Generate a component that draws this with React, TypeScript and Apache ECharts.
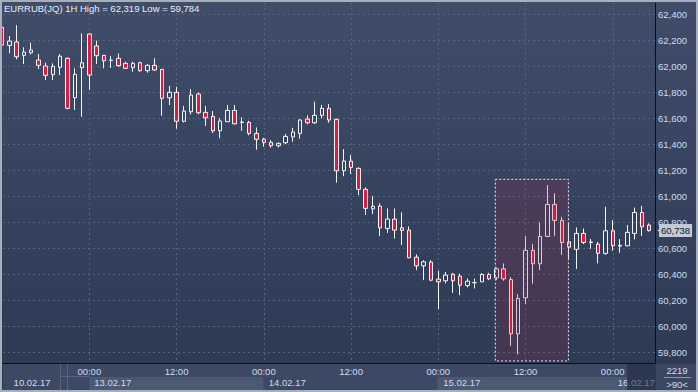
import React, { useEffect, useRef } from "react";
import * as echarts from "echarts";

// ---- data (hourly candles, index 0 = 10.02.17 12:00) ----
const opens = [
  62303, 62164, 62190, 62087, 62107, 62051, 62005, 61938, 61995, 62064,
  61760, 61992, 62251, 62159, 62087, 62051, 62064, 62025, 61992, 62030,
  61969, 62010, 61979, 61760, 61802, 61579, 61653, 61789, 61648, 61617,
  61506, 61576, 61663, 61573, 61571, 61486, 61442, 61417, 61391, 61414,
  61458, 61486, 61596, 61568, 61625, 61679, 61594, 61198, 61273, 61217,
  61055, 60905, 60926, 60754, 60826, 60759, 60741, 60533, 60466, 60495,
  60364, 60351, 60402, 60387, 60315, 60336, 60343, 60400, 60374, 60443,
  60361, 59942, 60220, 60585, 60482, 60692, 60939, 60816, 60651, 60593,
  60716, 60646, 60634, 60562, 60736, 60618, 60620, 60716, 60877, 60780,
];
const highs = [
  62310, 62236, 62319, 62149, 62184, 62097, 62030, 62025, 62097, 62070,
  61987, 62256, 62257, 62200, 62090, 62082, 62102, 62038, 62038, 62038,
  62018, 62064, 61980, 61851, 61845, 61697, 61827, 61802, 61697, 61658,
  61602, 61704, 61704, 61609, 61583, 61532, 61452, 61435, 61417, 61481,
  61529, 61596, 61625, 61730, 61704, 61712, 61600, 61365, 61319, 61224,
  61070, 61003, 60947, 60908, 60908, 60878, 60770, 60554, 60510, 60510,
  60428, 60420, 60412, 60408, 60369, 60369, 60410, 60412, 60454, 60485,
  60379, 60248, 60695, 60633, 60800, 61088, 61024, 60844, 60790, 60762,
  60754, 60672, 60651, 60921, 60818, 60672, 60780, 60915, 60928, 60793,
];
const lows = [
  62150, 62103, 62056, 62020, 62095, 61982, 61897, 61897, 61935, 61671,
  61666, 61614, 61820, 62020, 61987, 61990, 61999, 61982, 61961, 61961,
  61953, 61969, 61622, 61704, 61522, 61570, 61633, 61633, 61543, 61490,
  61448, 61576, 61555, 61506, 61471, 61360, 61383, 61375, 61378, 61404,
  61422, 61445, 61556, 61558, 61602, 61568, 61106, 61157, 61173, 61011,
  60857, 60864, 60695, 60720, 60677, 60626, 60525, 60433, 60356, 60348,
  60133, 60331, 60258, 60240, 60300, 60292, 60343, 60356, 60356, 60351,
  59850, 59784, 60171, 60328, 60433, 60692, 60697, 60551, 60520, 60441,
  60634, 60597, 60485, 60551, 60582, 60567, 60620, 60670, 60697, 60730,
];
const closes = [
  62166, 62197, 62076, 62112, 62128, 62010, 61933, 62002, 62080, 61679,
  61941, 62030, 61935, 62084, 62045, 62048, 62007, 61987, 62025, 61969,
  62010, 61974, 61756, 61802, 61579, 61658, 61781, 61645, 61606, 61506,
  61581, 61663, 61560, 61570, 61486, 61440, 61417, 61391, 61409, 61463,
  61496, 61589, 61568, 61625, 61679, 61589, 61198, 61273, 61224, 61055,
  60909, 60925, 60759, 60826, 60741, 60739, 60528, 60466, 60497, 60356,
  60343, 60395, 60351, 60317, 60348, 60338, 60400, 60366, 60443, 60366,
  59942, 60215, 60585, 60482, 60692, 60939, 60816, 60646, 60610, 60716,
  60646, 60650, 60562, 60736, 60620, 60624, 60724, 60877, 60767, 60738,
];

const priceTicks = [59800, 60000, 60200, 60400, 60600, 60800, 61000, 61200, 61400, 61600, 61800, 62000, 62200, 62400];
const timeTickIdx = [12, 24, 36, 48, 60, 72, 84];
const timeTickText = ["00:00", "12:00", "00:00", "12:00", "00:00", "12:00", "00:00"];
const dateTickIdx = [0.9, 12, 36, 60, 84];
const dateTickText = ["10.02.17", "13.02.17", "14.02.17", "15.02.17", "16.02.17"];
const titleText = "EURRUB(JQ) 1H High = 62,319 Low = 59,784";
const lastPrice = 60738;
const selection = { fromIdx: 67.85, toIdx: 77.9, low: 59734, high: 61132 };
const cornerTexts = ["2219", ">90<"];

const viewIdx = { min: 0.13, max: 89.81 };
const viewPrice = { min: 59718, max: 62490 };

const FONT = "'Liberation Sans', Arial, sans-serif";
const FS = 9.5;
const labelColor = "#cfdcee";
const gridColor = "#56647f";
const tagColor = "#c4cad3";

const fmt = (v: number) => v.toLocaleString("en-US");

export default function App() {
  const ref = useRef<HTMLDivElement>(null);
  useEffect(() => {
    if (!ref.current) return;
    const chart = echarts.init(ref.current, null, { renderer: "svg" });
    const candles = opens.map((o, i) => [i, o, closes[i], lows[i], highs[i]]);
    const option: any = {
      animation: false,
      backgroundColor: "transparent",
      textStyle: { fontFamily: FONT },
      title: {
        text: titleText,
        left: 4,
        top: 3,
        padding: 0,
        textStyle: { color: "#e9eef7", fontSize: FS, fontWeight: "normal", fontFamily: FONT },
      },
      grid: { left: 3, top: 3, right: 43, bottom: 29 },
      xAxis: [
        {
          type: "value",
          min: viewIdx.min,
          max: viewIdx.max,
          position: "bottom",
          axisLine: { show: true, onZero: false, lineStyle: { color: "#0b0e15", width: 1 } },
          axisTick: { show: false, customValues: timeTickIdx },
          axisLabel: {
            customValues: timeTickIdx,
            formatter: (v: number) => timeTickText[timeTickIdx.indexOf(v)] ?? "",
            color: labelColor,
            fontSize: FS,
            fontFamily: FONT,
            margin: 3,
          },
          splitLine: { show: true, lineStyle: { color: gridColor, type: [2, 3], width: 1 } },
        },
        {
          type: "value",
          min: viewIdx.min,
          max: viewIdx.max,
          position: "bottom",
          offset: 11,
          axisLine: { show: false },
          axisTick: { show: false, customValues: dateTickIdx },
          axisLabel: {
            customValues: dateTickIdx,
            formatter: (v: number) => dateTickText[dateTickIdx.indexOf(v)] ?? "",
            color: labelColor,
            fontSize: FS,
            fontFamily: FONT,
            align: "left",
            margin: 3,
            padding: [0, 0, 0, 5],
          },
          splitLine: { show: false },
        },
      ],
      yAxis: {
        type: "value",
        position: "right",
        min: viewPrice.min,
        max: viewPrice.max,
        scale: true,
        axisLine: { show: true, onZero: false, lineStyle: { color: "#0b0e15", width: 1 } },
        axisTick: { show: false, customValues: priceTicks },
        axisLabel: {
          customValues: priceTicks,
          formatter: (v: number) => fmt(v),
          color: labelColor,
          fontSize: FS,
          fontFamily: FONT,
          margin: 3,
        },
        splitLine: { show: true, lineStyle: { color: gridColor, type: [2, 3], width: 1 } },
      },
      series: [
        {
          type: "candlestick",
          xAxisIndex: 0,
          data: candles,
          barWidth: 4,
          itemStyle: {
            color: "rgba(0,0,0,0)",
            color0: "#e5173d",
            borderColor: "#f4f6fa",
            borderColor0: "#f4f6fa",
            borderWidth: 1,
          },
          markArea: {
            z: 10,
            silent: true,
            itemStyle: {
              color: "rgba(160,40,70,0.2)",
              borderColor: "#e6e6ee",
              borderWidth: 1,
              borderType: [2, 2],
            },
            data: [[
              { xAxis: selection.fromIdx, yAxis: selection.high },
              { xAxis: selection.toIdx, yAxis: selection.low },
            ]],
          },
          markLine: {
            z: 20,
            silent: true,
            symbol: "none",
            lineStyle: { color: "rgba(0,0,0,0)", width: 1 },
            label: {
              show: true,
              position: "end",
              distance: 4,
              formatter: fmt(lastPrice),
              backgroundColor: tagColor,
              color: "#10141c",
              fontSize: FS,
              fontFamily: FONT,
              padding: [2, 2, 1, 2],
            },
            data: [{ yAxis: lastPrice }],
          },
          markPoint: {
            z: 20,
            silent: true,
            symbol: "triangle",
            symbolSize: [10, 6],
            symbolRotate: 90,
            symbolOffset: [5.5, 0],
            itemStyle: { color: tagColor },
            label: { show: false },
            data: [{ coord: [viewIdx.max, lastPrice] }],
          },
        },
      ],
      graphic: [
        // bottom bar background
        { type: "rect", z: -10, shape: { x: 3, y: 364, width: 652, height: 26 }, style: { fill: "#3d4964" } },
        { type: "rect", z: -9, shape: { x: 89.3, y: 377, width: 174, height: 13 }, style: { fill: "#4c5973" } },
        { type: "rect", z: -9, shape: { x: 437.3, y: 377, width: 190, height: 13 }, style: { fill: "#4c5973" } },
        { type: "line", z: -8, shape: { x1: 60.5, y1: 364, x2: 60.5, y2: 390 }, style: { stroke: "#56637c", lineWidth: 1 } },
        { type: "line", z: -8, shape: { x1: 67.5, y1: 364, x2: 67.5, y2: 390 }, style: { stroke: "#56637c", lineWidth: 1 } },
        { type: "line", z: -8, shape: { x1: 60, y1: 376.5, x2: 89, y2: 376.5 }, style: { stroke: "#56637c", lineWidth: 1 } },
        { type: "rect", z: -10, shape: { x: 656, y: 364, width: 42, height: 26 }, style: { fill: "#3b4762" } },
        { type: "rect", z: 100, shape: { x: 627, y: 364, width: 28, height: 26 }, style: { fill: "rgba(30,40,60,0.55)" } },
        // corner info
        { type: "text", z: 100, x: 677, y: 370.5, style: { text: cornerTexts[0], fill: labelColor, font: `${FS}px ${FONT}`, align: "center", verticalAlign: "middle" } },
        { type: "line", z: 100, shape: { x1: 664, y1: 377.5, x2: 691, y2: 377.5 }, style: { stroke: "#8a96aa", lineWidth: 1 } },
        { type: "text", z: 100, x: 677, y: 384, style: { text: cornerTexts[1], fill: labelColor, font: `${FS}px ${FONT}`, align: "center", verticalAlign: "middle" } },
        // frame
        { type: "rect", z: 100, shape: { x: 0, y: 0, width: 2, height: 392 }, style: { fill: "#a7afbd" } },
        { type: "rect", z: 100, shape: { x: 0, y: 0, width: 698, height: 2 }, style: { fill: "#a7afbd" } },
        { type: "rect", z: 100, shape: { x: 0, y: 390, width: 698, height: 2 }, style: { fill: "#a7afbd" } },
        { type: "rect", z: 100, shape: { x: 696, y: 0, width: 2, height: 392 }, style: { fill: "#a7afbd" } },
      ],
    };
    chart.setOption(option);
    return () => chart.dispose();
  }, []);
  return (
    <div
      ref={ref}
      style={{
        position: "fixed",
        left: 0,
        top: 0,
        width: 698,
        height: 392,
        background: "linear-gradient(180deg, #3f4d69 0%, #2c3953 100%)",
      }}
    />
  );
}
